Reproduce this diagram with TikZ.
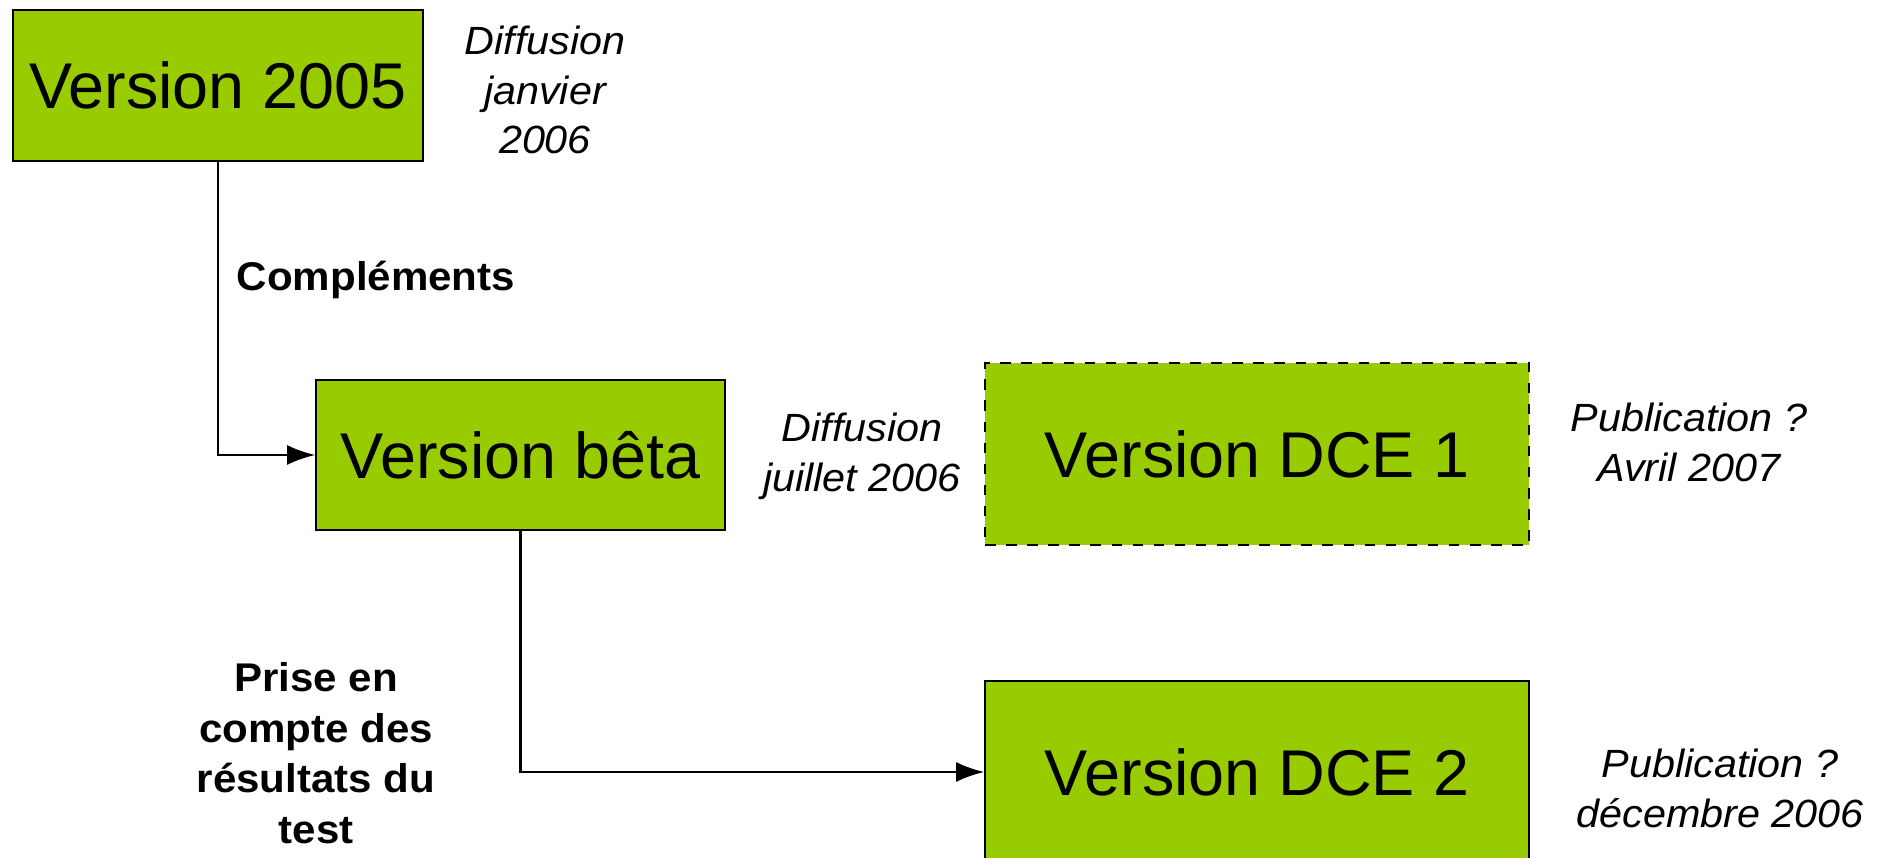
\documentclass[tikz,border=0pt]{standalone}
\usepackage{fontspec}
\setmainfont{Liberation Sans}
\newfontfamily\notefont[FakeStretch=1.05]{Liberation Sans}
\usepackage{tikz}
\usetikzlibrary{positioning}
\usetikzlibrary{arrows.meta}
\definecolor{vgreen}{RGB}{153,204,0}
\tikzstyle{version}=[draw,line width=0.5pt,fill=vgreen,inner sep=0pt,
                     font=\fontsize{18.4}{22}\selectfont]
\tikzstyle{note}=[align=center,inner sep=0pt,font=\notefont\itshape\fontsize{11.2}{14.2}\selectfont]
\tikzstyle{change}=[align=center,inner sep=0pt,font=\notefont\bfseries\fontsize{11.4}{14.4}\selectfont]
\tikzset{>={Latex[length=2.8mm,width=2mm]}}
\tikzstyle{link}=[->,line width=0.6pt]

\begin{document}
\begin{tikzpicture}

\useasboundingbox (0,0) rectangle (18.83,8.58);
\clip (0,0) rectangle (18.83,8.58);

% Versions
\node[version,minimum width=4.1cm,minimum height=1.51cm] (v2005) at (2.18,7.725) {Version 2005};
\node[version,minimum width=4.09cm,minimum height=1.5cm] (beta) at (5.205,4.03) {Version bêta};
\node[version,dashed,minimum width=5.44cm,minimum height=1.82cm] (dce1) at (12.57,4.04) {Version DCE 1};
\node[version,minimum width=5.44cm,minimum height=1.82cm] (dce2) at (12.57,0.86) {Version DCE 2};

% Dates
\node[note] (d2005) at (5.45,7.68) {Diffusion\\janvier\\2006};
\node[note] (dbeta) at (8.62,4.02) {Diffusion\\juillet 2006};
\node[note] (pdce1) at (16.89,4.16) {Publication ?\\Avril 2007};
\node[note] (pdce2) at (17.2,0.70) {Publication ?\\décembre 2006};

% Changes
\node[change] (compl) at (3.76,5.78) {Compléments};
\node[change] (prise) at (3.16,1.05) {Prise en\\compte des\\résultats du\\test};

% Links
\draw[link] (v2005.south) |- (beta.west);
\draw[link] (beta.south) |- (dce2.west);

\end{tikzpicture}
\end{document}
